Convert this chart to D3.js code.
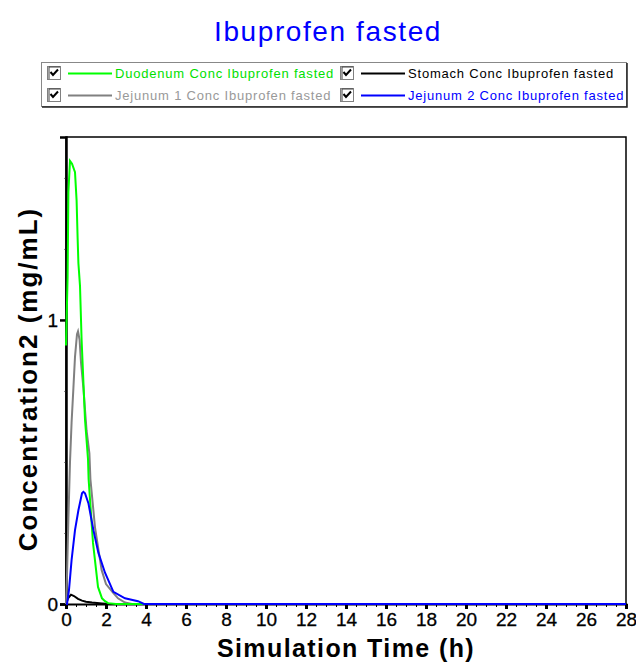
<!DOCTYPE html>
<html>
<head>
<meta charset="utf-8">
<script src="https://cdn.jsdelivr.net/npm/d3@7"></script>
<style>
  body { margin: 0; background: #fff; }
  text { font-family: Arial, "Liberation Sans", sans-serif; }
</style>
</head>
<body>
<div id="chart"></div>
<script>
// series (time in h, concentration in mg/mL)
const duodenumT = [0, 0.08, 0.12, 0.2, 0.3, 0.45, 0.53, 0.58, 0.62, 0.7, 0.78, 0.95, 1.1, 1.13, 1.35, 1.6, 1.8, 1.95, 2.1, 2.5, 28];
const duodenumV = [0.91, 1.15, 1.45, 1.56, 1.55, 1.52, 1.42, 1.29, 1.2, 1.12, 0.93, 0.65, 0.51, 0.44, 0.215, 0.06, 0.02, 0.01, 0.003, 0, 0];

const stomachT = [0, 0.1, 0.25, 0.4, 0.6, 0.8, 1.0, 1.3, 1.8, 2.2, 28];
const stomachV = [0, 0.02, 0.033, 0.028, 0.018, 0.012, 0.008, 0.005, 0.002, 0, 0];

const jejunum1T = [0, 0.05, 0.12, 0.2, 0.28, 0.37, 0.45, 0.55, 0.6, 0.68, 0.75, 0.87, 1.03, 1.17, 1.22, 1.45, 1.78, 2.0, 2.35, 2.6, 2.95, 3.3, 28];
const jejunum1V = [0, 0.1, 0.3, 0.5, 0.64, 0.76, 0.87, 0.95, 0.96, 0.93, 0.85, 0.76, 0.61, 0.53, 0.44, 0.27, 0.12, 0.07, 0.04, 0.02, 0.005, 0, 0];

const jejunum2T = [0, 0.05, 0.15, 0.28, 0.45, 0.62, 0.8, 0.87, 0.95, 1.12, 1.37, 1.62, 1.95, 2.37, 2.95, 3.6, 3.9, 28];
const jejunum2V = [0, 0, 0.05, 0.155, 0.26, 0.33, 0.39, 0.395, 0.39, 0.355, 0.26, 0.18, 0.11, 0.043, 0.02, 0.01, 0, 0];

const seriesNames = ["Duodenum Conc Ibuprofen fasted", "Stomach Conc Ibuprofen fasted",
                     "Jejunum 1 Conc Ibuprofen fasted", "Jejunum 2 Conc Ibuprofen fasted"];
const seriesColors = ["#00ff00", "#000000", "#808080", "#0000ff"];
const textColors = ["#00e000", "#000000", "#999999", "#0000ff"];

const xTicks = d3.range(0, 29, 2);
const yTicks = [0, 1];

const series = [
  {name: seriesNames[0], t: duodenumT, v: duodenumV, color: seriesColors[0], tc: textColors[0]},
  {name: seriesNames[1], t: stomachT, v: stomachV, color: seriesColors[1], tc: textColors[1]},
  {name: seriesNames[2], t: jejunum1T, v: jejunum1V, color: seriesColors[2], tc: textColors[2]},
  {name: seriesNames[3], t: jejunum2T, v: jejunum2V, color: seriesColors[3], tc: textColors[3]}
];

const W = 636, H = 665;
const margin = {top: 137, right: 10, bottom: 61, left: 66};
const width = W - margin.left - margin.right,
      height = H - margin.top - margin.bottom;

const svg = d3.select("#chart").append("svg")
    .attr("width", W)
    .attr("height", H);

// title
svg.append("text")
    .attr("x", 328).attr("y", 41)
    .attr("text-anchor", "middle")
    .attr("fill", "#0000ff")
    .style("font-size", "28px")
    .style("letter-spacing", "1.6px")
    .text("Ibuprofen fasted");

// legend box
const lg = svg.append("g").attr("transform", "translate(41,62)");
lg.append("rect").attr("x", 0.5).attr("y", 0.5).attr("width", 585).attr("height", 44)
    .attr("fill", "#fff").attr("stroke", "#888");
lg.append("path").attr("d", "M1,45 H586 V1").attr("fill", "none").attr("stroke", "#222").attr("stroke-width", 1.5);

const cols = [0, 293];
series.forEach(function(s, i) {
  // row 1 duodenum, stomach; row 2 jejunum 1, jejunum 2
  const cx = cols[i % 2], cy = i < 2 ? 4 : 26;
  const item = lg.append("g").attr("transform", "translate(" + cx + "," + cy + ")");
  item.append("rect").attr("x", 6.5).attr("y", 0.5).attr("width", 13).attr("height", 13)
      .attr("fill", "#fff").attr("stroke", "#808080");
  item.append("path").attr("d", "M8,1 H19 M8,1 V13").attr("stroke", "#404040").attr("fill", "none");
  item.append("path").attr("d", "M9.5,6 L12,9 L17,3.5")
      .attr("fill", "none").attr("stroke", "#000").attr("stroke-width", 2);
  item.append("line").attr("x1", 27).attr("x2", 71).attr("y1", 7.5).attr("y2", 7.5)
      .attr("stroke", s.color).attr("stroke-width", 2);
  item.append("text").attr("x", 74).attr("y", 12)
      .attr("fill", s.tc)
      .style("font-size", "13px")
      .style("letter-spacing", "0.8px")
      .text(s.name);
});

const g = svg.append("g")
    .attr("transform", "translate(" + margin.left + "," + margin.top + ")");

const x = d3.scaleLinear().domain([0, 28]).range([0, width]);
const y = d3.scaleLinear().domain([0, 1.644]).range([height, 0]);

// frame
g.append("path")
    .attr("d", "M0," + height + " V0 H" + width + " V" + height)
    .attr("fill", "none").attr("stroke", "#000").attr("stroke-width", 1.5);

// minor ticks
g.append("g")
    .attr("transform", "translate(0," + height + ")")
    .call(d3.axisBottom(x).tickValues(d3.range(0, 28.01, 0.5)).tickSize(3).tickFormat(""))
    .call(a => a.select(".domain").remove());
g.append("g")
    .call(d3.axisLeft(y).tickValues([0.25, 0.5, 0.75, 1.25, 1.5]).tickSize(2).tickFormat(""))
    .call(a => a.select(".domain").remove())
    .selectAll("line").attr("stroke", "#888");

// major ticks
const xAxis = g.append("g")
    .attr("transform", "translate(0," + height + ")")
    .call(d3.axisBottom(x).tickValues(xTicks).tickSize(5).tickPadding(4));
xAxis.select(".domain").attr("stroke-width", 2);
xAxis.selectAll(".tick line").attr("stroke-width", 3);
xAxis.selectAll("text").style("font-size", "19px").attr("fill", "#000")
    .attr("stroke", "#000").attr("stroke-width", 0.3);

const yAxis = g.append("g")
    .call(d3.axisLeft(y).tickValues(yTicks).tickSize(6).tickPadding(2).tickFormat(d3.format("d")));
yAxis.select(".domain").attr("stroke-width", 2.5);
yAxis.selectAll(".tick line").attr("stroke-width", 2.5);
yAxis.selectAll("text").style("font-size", "19px").attr("fill", "#000").attr("dy", "0.35em")
    .attr("stroke", "#000").attr("stroke-width", 0.3);

// axis titles
svg.append("text")
    .attr("x", 346).attr("y", 657)
    .attr("text-anchor", "middle")
    .style("font-size", "25px").style("font-weight", "bold")
    .style("letter-spacing", "1.4px")
    .text("Simulation Time (h)");
svg.append("text")
    .attr("transform", "translate(37,379) rotate(-90)")
    .attr("text-anchor", "middle")
    .style("font-size", "26px").style("font-weight", "bold")
    .style("letter-spacing", "2px")
    .text("Concentration2 (mg/mL)");

// lines
const line = d3.line()
    .x(d => x(d[0]))
    .y(d => y(d[1]));

// draw order: blue on top, green above gray
[1, 2, 0, 3].forEach(function(i) {
  const s = series[i];
  g.append("path")
      .datum(s.t.map((t, j) => [t, s.v[j]]))
      .attr("fill", "none")
      .attr("stroke", s.color)
      .attr("stroke-width", 2)
      .attr("d", line);
});
</script>
</body>
</html>
